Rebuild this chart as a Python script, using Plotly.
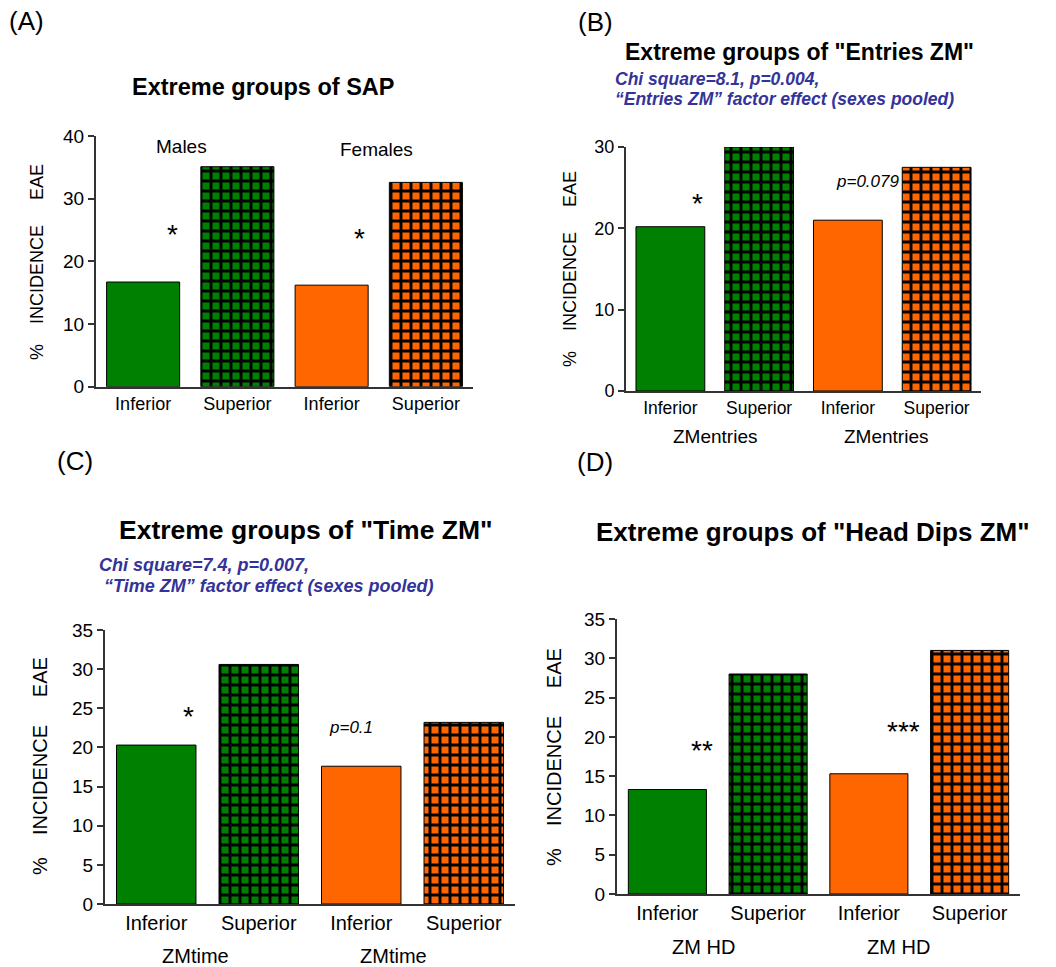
import plotly.graph_objects as go

W, H = 1056, 967

categories = ["Inferior", "Superior", "Inferior", "Superior"]
sap_values = [16.7, 35.1, 16.2, 32.6]
entries_values = [20.2, 30.0, 21.0, 27.5]
time_values = [20.3, 30.6, 17.6, 23.2]
hd_values = [13.3, 28.0, 15.3, 31.0]

GREEN = "#008000"
ORANGE = "#ff6600"
BLUE = "#333399"
AXIS = "#333333"
FONT = "Arial, Liberation Sans, sans-serif"

# solid bar for "Inferior", checkered-like pattern for "Superior"
bar_shapes = ["", "+"]


def px_x(p):
    return p / W


def px_y(p):
    return 1 - p / H


panels = [
    dict(vals=sap_values, box=(96, 473, 386.7, 136), ymax=40, dtick=10,
         tickfont=18, ytickfont=19),
    dict(vals=entries_values, box=(626, 981, 391, 147), ymax=30, dtick=10,
         tickfont=17.5, ytickfont=18),
    dict(vals=time_values, box=(105, 515, 904, 630), ymax=35, dtick=5,
         tickfont=20, ytickfont=19),
    dict(vals=hd_values, box=(617, 1020, 894, 619), ymax=35, dtick=5,
         tickfont=20, ytickfont=19),
]

fig = go.Figure()
layout = dict(
    width=W, height=H, margin=dict(l=0, r=0, t=0, b=0, autoexpand=False),
    paper_bgcolor="white", plot_bgcolor="white", showlegend=False,
    barmode="overlay",
    font=dict(family=FONT, color="black"),
)

xpos = list(range(len(categories)))

for i, p in enumerate(panels):
    n = "" if i == 0 else str(i + 1)
    x0, x1, yz, yt = p["box"]
    for color, sl in ((GREEN, slice(0, 2)), (ORANGE, slice(2, 4))):
        fig.add_trace(go.Bar(
            x=xpos[sl], y=p["vals"][sl],
            xaxis="x" + n, yaxis="y" + n, width=0.775,
            marker=dict(
                color=color,
                line=dict(color="black", width=1),
                pattern=dict(shape=bar_shapes, fgcolor="black",
                             bgcolor=color, size=10,
                             solidity=0.5, fillmode="replace", fgopacity=1),
            ),
            hoverinfo="skip",
        ))
    layout["xaxis" + n] = dict(
        domain=[px_x(x0), px_x(x1)], anchor="y" + n, range=[-0.5, 3.5],
        tickvals=xpos, ticktext=categories,
        showline=True, linecolor=AXIS, linewidth=2, ticks="",
        automargin=False, showgrid=False, zeroline=False,
        tickfont=dict(size=p["tickfont"], family=FONT, color="black"),
        fixedrange=True,
    )
    layout["yaxis" + n] = dict(
        domain=[px_y(yz), px_y(yt)], anchor="x" + n, range=[0, p["ymax"]],
        dtick=p["dtick"], tick0=0, showline=True, linecolor=AXIS,
        linewidth=2, ticks="outside", ticklen=6, tickwidth=1.5,
        tickcolor=AXIS, showgrid=False, zeroline=False, automargin=False,
        tickfont=dict(size=p["ytickfont"], family=FONT, color="black"),
        fixedrange=True,
    )

ann = []


def paper_text(text, x, y, size, bold=False, italic=False, color="black",
               xanchor="center", angle=0):
    t = text
    if bold:
        t = "<b>" + t + "</b>"
    if italic:
        t = "<i>" + t + "</i>"
    ann.append(dict(text=t, x=px_x(x), y=px_y(y), xref="paper", yref="paper",
                    showarrow=False, xanchor=xanchor, yanchor="middle",
                    textangle=angle,
                    font=dict(size=size, family=FONT, color=color)))


def data_text(text, panel, x, y, size, italic=False):
    n = "" if panel == 0 else str(panel + 1)
    t = "<i>" + text + "</i>" if italic else text
    ann.append(dict(text=t, x=x, y=y, xref="x" + n, yref="y" + n,
                    showarrow=False, xanchor="center", yanchor="middle",
                    font=dict(size=size, family=FONT, color="black")))


def group_label(text, panel, x, ypx, size):
    n = "" if panel == 0 else str(panel + 1)
    ann.append(dict(text=text, x=x, y=px_y(ypx), xref="x" + n, yref="paper",
                    showarrow=False, xanchor="center", yanchor="middle",
                    font=dict(size=size, family=FONT, color="black")))


NB = "\u00a0"
ytitle = "%" + NB * 4 + "INCIDENCE" + NB * 5 + "EAE"

paper_text("(A)", 26, 21, 26)
paper_text("(B)", 595, 22, 26)
paper_text("(C)", 75, 461, 26)
paper_text("(D)", 595, 462, 26)

paper_text('Extreme groups of SAP', 263, 87, 23.5, bold=True)
paper_text('Extreme groups of "Entries ZM"', 799, 52, 23, bold=True)
paper_text('Extreme groups of "Time ZM"', 306, 530, 26.5, bold=True)
paper_text('Extreme groups of "Head Dips ZM"', 813, 532, 26, bold=True)

paper_text("<b><i>Chi square=8.1, p=0.004,</i></b>", 613, 79, 17.5,
           color=BLUE, xanchor="left")
paper_text("<b><i>\u201cEntries ZM\u201d factor effect (sexes pooled)</i></b>", 613, 99,
           17.5, color=BLUE, xanchor="left")
paper_text("<b><i>Chi square=7.4, p=0.007,</i></b>", 97, 565, 18,
           color=BLUE, xanchor="left")
paper_text("<b><i>\u201cTime ZM\u201d factor effect (sexes pooled)</i></b>", 102, 586, 18,
           color=BLUE, xanchor="left")

paper_text(ytitle, 37, 262, 18, angle=-90)
paper_text(ytitle, 570, 269, 18, angle=-90)
paper_text(ytitle, 40, 766, 20, angle=-90)
paper_text(ytitle, 554, 757, 20, angle=-90)

data_text("Males", 0, 0.41, 38.4, 19)
data_text("Females", 0, 2.48, 37.8, 19)
data_text("Males", 1, 0.41, 32.3, 18.5)
data_text("Females", 1, 2.47, 32.1, 18.5)
data_text("Males", 2, 0.42, 35.8, 21)
data_text("Females", 2, 2.49, 35.4, 21)
data_text("Males", 3, 0.41, 35.6, 20.5)
data_text("Females", 3, 2.49, 35.1, 20.5)

data_text("*", 0, 0.31, 24.35, 28)
data_text("*", 0, 2.30, 23.7, 28)
data_text("*", 1, 0.31, 23.1, 28)
data_text("p=0.079", 1, 2.22, 25.7, 17, italic=True)
data_text("*", 2, 0.31, 24.0, 28)
data_text("p=0.1", 2, 1.90, 22.6, 17, italic=True)
data_text("**", 3, 0.34, 18.3, 28)
data_text("***", 3, 2.34, 20.7, 28)

group_label("ZMentries", 1, 0.50, 437, 19)
group_label("ZMentries", 1, 2.43, 437, 19)
group_label("ZMtime", 2, 0.38, 956, 20)
group_label("ZMtime", 2, 2.31, 956, 20)
group_label("ZM HD", 3, 0.36, 947, 20)
group_label("ZM HD", 3, 2.29, 947, 20)

layout["annotations"] = ann
fig.update_layout(**layout)
fig.write_html("out.html")
